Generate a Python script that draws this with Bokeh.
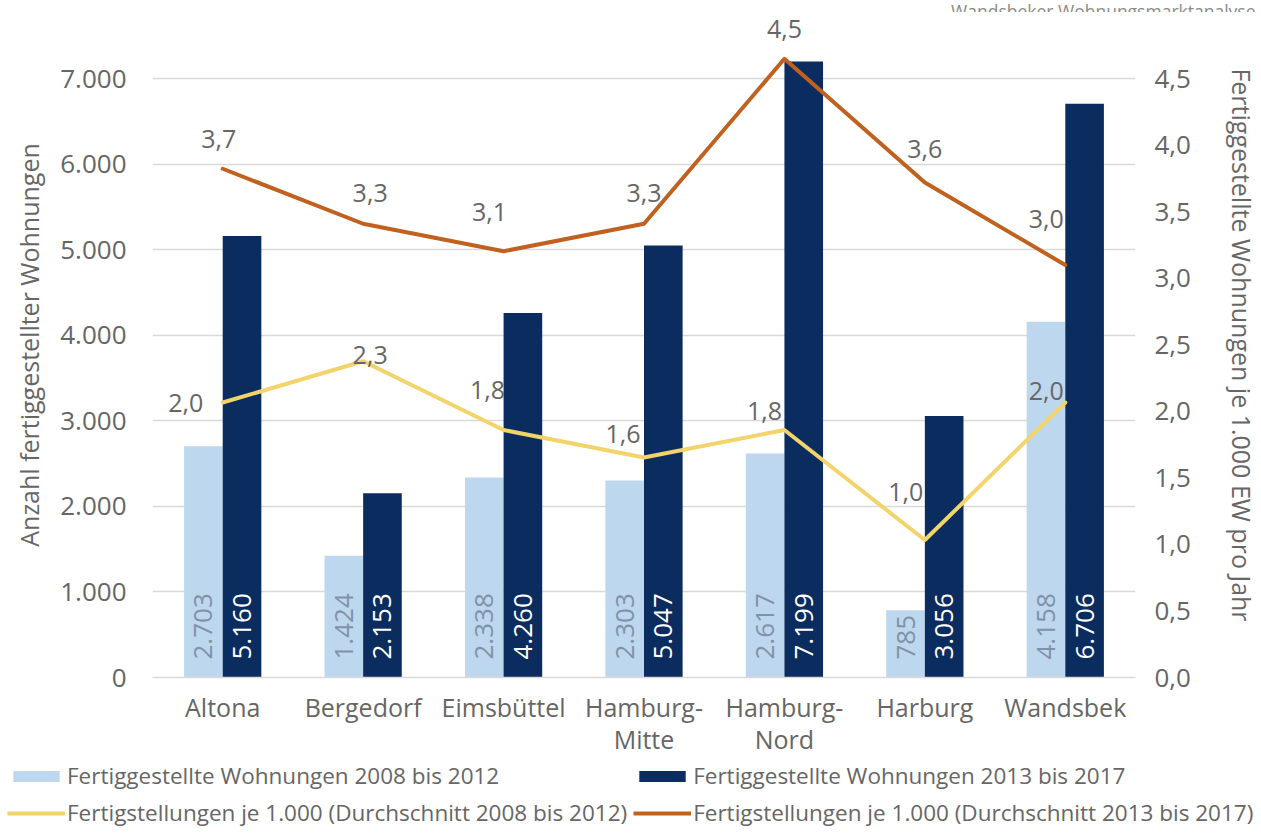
import math
from bokeh.plotting import figure
from bokeh.layouts import column
from bokeh.models import (ColumnDataSource, Range1d, LinearAxis, FixedTicker,
                          Legend, LegendItem, Label)
from bokeh.embed import file_html
from bokeh.resources import INLINE
from bokeh.core.properties import value

# ---------------- data ----------------
districts = ["Altona", "Bergedorf", "Eimsbüttel", "Hamburg-\nMitte",
             "Hamburg-\nNord", "Harburg", "Wandsbek"]
wohnungen_2008_2012 = [2703, 1424, 2338, 2303, 2617, 785, 4158]
wohnungen_2013_2017 = [5160, 2153, 4260, 5047, 7199, 3056, 6706]
je_1000_2008_2012 = [2.0, 2.3, 1.8, 1.6, 1.8, 1.0, 2.0]
je_1000_2013_2017 = [3.7, 3.3, 3.1, 3.3, 4.5, 3.6, 3.0]
left_ticks = [0, 1000, 2000, 3000, 4000, 5000, 6000, 7000]
right_ticks = [0.0, 0.5, 1.0, 1.5, 2.0, 2.5, 3.0, 3.5, 4.0, 4.5]
legend_labels = ["Fertiggestellte Wohnungen 2008 bis 2012",
                 "Fertiggestellte Wohnungen 2013 bis 2017",
                 "Fertigstellungen je 1.000 (Durchschnitt 2008 bis 2012)",
                 "Fertigstellungen je 1.000 (Durchschnitt 2013 bis 2017)"]
y_left_title = "Anzahl fertiggestellter Wohnungen"
y_right_title = "Fertiggestellte Wohnungen je 1.000 EW pro Jahr"
corner_text = "Wandsbeker Wohnungsmarktanalyse"

# ---------------- style ----------------
FONT = "Open Sans"
GREY = "#666666"
LIGHT = "#bdd7ee"
DARK = "#0b2c5f"
YELLOW = "#f2d46b"
ORANGE = "#c0611f"
GRID = "#d9d9d9"
BAR_W = 0.275
# label offsets (screen px) for the line labels
yel_dx = [-37, 7, -16, -21, -20, -19, -19]
yel_dy = [0, -6, -40, -24, -19, -48, -12]
ora_dx = [-4, 7, -14, 0, 0, 0, -19]
ora_dy = [-30, -31, -39, -31, -30, -34, -46]


def de_int(v):
    return f"{v:,}".replace(",", ".")


def de_dec(v):
    return f"{v:.1f}".replace(".", ",")


W = 1261
HEAD_H = 12
MAIN_H = 748
LEG_H = 70
FRAME_L, FRAME_R, FRAME_B = 152, 1136, 677   # page pixels
FRAME_T = HEAD_H
frame_h = FRAME_B - FRAME_T
px_per_1000 = 599 / 7
px_per_unit_axis = 599 / 4.5
px_per_unit_line = 137.5

idx = list(range(len(districts)))
src = ColumnDataSource(dict(
    x=idx,
    x_l=[i - BAR_W / 2 for i in idx],
    x_d=[i + BAR_W / 2 for i in idx],
    w1=wohnungen_2008_2012,
    w2=wohnungen_2013_2017,
    t1=[de_int(v) for v in wohnungen_2008_2012],
    t2=[de_int(v) for v in wohnungen_2013_2017],
    r1=je_1000_2008_2012,
    r2=je_1000_2013_2017,
    rt1=[de_dec(v) for v in je_1000_2008_2012],
    rt2=[de_dec(v) for v in je_1000_2013_2017],
    zero=[0] * len(idx),
    ydx=yel_dx, ydy=yel_dy, odx=ora_dx, ody=ora_dy,
))

# ---------------- header (corner text) ----------------
head = figure(width=W, height=HEAD_H, output_backend="svg", toolbar_location=None,
              x_axis_type=None, y_axis_type=None, min_border=0, frame_align=False,
              x_range=Range1d(0, 1), y_range=Range1d(0, 1))
head.outline_line_color = None
head.grid.visible = False
head.add_layout(Label(x=1255, y=2, x_units="screen", y_units="screen",
                      text=corner_text, text_align="right", text_baseline="alphabetic",
                      text_font=FONT, text_font_size="17.5px", text_color="#8a8a8a"))

# ---------------- main chart ----------------
p = figure(width=W, height=MAIN_H, output_backend="svg", toolbar_location=None,
           x_range=Range1d(-0.5, 6.5),
           y_range=Range1d(0, frame_h / px_per_1000 * 1000),
           min_border_left=FRAME_L, min_border_right=W - FRAME_R,
           min_border_top=0, min_border_bottom=HEAD_H + MAIN_H - FRAME_B,
           frame_align=False)
p.outline_line_color = None
p.extra_y_ranges = {"axis_r": Range1d(0, frame_h / px_per_unit_axis),
                    "line": Range1d(0, frame_h / px_per_unit_line)}

p.xgrid.visible = False
p.ygrid.ticker = FixedTicker(ticks=left_ticks)
p.ygrid.grid_line_color = GRID
p.ygrid.grid_line_width = 1.5

xa = p.xaxis[0]
xa.ticker = FixedTicker(ticks=idx)
xa.major_label_overrides = {i: d for i, d in zip(idx, districts)}
xa.axis_line_color = GRID
xa.axis_line_width = 1.5
xa.major_tick_line_color = None
xa.minor_tick_line_color = None
xa.major_label_standoff = 6
xa.major_label_text_font = FONT
xa.major_label_text_font_size = "25px"
xa.major_label_text_color = GREY
xa.major_label_text_line_height = 0.97

ya = p.yaxis[0]
ya.ticker = FixedTicker(ticks=left_ticks)
ya.major_label_overrides = {t: de_int(t) for t in left_ticks}
ya.axis_line_color = None
ya.major_tick_line_color = None
ya.minor_tick_line_color = None
ya.major_label_standoff = 20
ya.major_label_text_font = FONT
ya.major_label_text_font_size = "26px"
ya.major_label_text_color = GREY
ya.axis_label = y_left_title
ya.axis_label_text_font = FONT
ya.axis_label_text_font_size = "25px"
ya.axis_label_text_font_style = "normal"
ya.axis_label_text_color = GREY
ya.axis_label_standoff = 11

ra = LinearAxis(y_range_name="axis_r", ticker=FixedTicker(ticks=right_ticks))
ra.major_label_overrides = {t: de_dec(t) for t in right_ticks}
ra.axis_line_color = None
ra.major_tick_line_color = None
ra.minor_tick_line_color = None
ra.major_label_standoff = 13
ra.major_label_text_font = FONT
ra.major_label_text_font_size = "26px"
ra.major_label_text_color = GREY
ra.axis_label = y_right_title
ra.axis_label_text_font = FONT
ra.axis_label_text_font_size = "25px"
ra.axis_label_text_font_style = "normal"
ra.axis_label_text_color = GREY
ra.axis_label_standoff = 31
p.add_layout(ra, "right")

p.vbar(x="x_l", top="w1", width=BAR_W, source=src, fill_color=LIGHT, line_color=None)
p.vbar(x="x_d", top="w2", width=BAR_W, source=src, fill_color=DARK, line_color=None)

p.text(x="x_l", y="zero", text="t1", source=src, angle=math.pi / 2,
       text_align="left", text_baseline="middle", y_offset=-18,
       text_font=value(FONT), text_font_size="26px", text_color="#8192a8")
p.text(x="x_d", y="zero", text="t2", source=src, angle=math.pi / 2,
       text_align="left", text_baseline="middle", y_offset=-18,
       text_font=value(FONT), text_font_size="26px", text_color="white")

p.line(x="x", y="r1", source=src, y_range_name="line", line_color=YELLOW,
       line_width=4, line_join="round", line_cap="round")
p.line(x="x", y="r2", source=src, y_range_name="line", line_color=ORANGE,
       line_width=4, line_join="round", line_cap="round")

p.text(x="x", y="r1", text="rt1", source=src, y_range_name="line",
       x_offset="ydx", y_offset="ydy", text_align="center", text_baseline="middle",
       text_font=value(FONT), text_font_size="25px", text_color=GREY)
p.text(x="x", y="r2", text="rt2", source=src, y_range_name="line",
       x_offset="odx", y_offset="ody", text_align="center", text_baseline="middle",
       text_font=value(FONT), text_font_size="25px", text_color=GREY)

# ---------------- legend strip ----------------
leg = figure(width=W, height=LEG_H, output_backend="svg", toolbar_location=None,
             x_axis_type=None, y_axis_type=None, min_border=0, frame_align=False,
             x_range=Range1d(0, 1), y_range=Range1d(0, 1))
leg.outline_line_color = None
leg.grid.visible = False
# legend-only renderers: points placed outside the visible range
hidden = ColumnDataSource(dict(x=[-5, -4], y=[-5, -4]))
g1 = leg.vbar(x="x", top="y", width=0.1, source=hidden, fill_color=LIGHT, line_color=None)
g2 = leg.vbar(x="x", top="y", width=0.1, source=hidden, fill_color=DARK, line_color=None)
g3 = leg.line(x="x", y="y", source=hidden, line_color=YELLOW, line_width=4)
g4 = leg.line(x="x", y="y", source=hidden, line_color=ORANGE, line_width=4)
legend = Legend(items=[LegendItem(label=legend_labels[0], renderers=[g1]),
                       LegendItem(label=legend_labels[1], renderers=[g2]),
                       LegendItem(label=legend_labels[2], renderers=[g3]),
                       LegendItem(label=legend_labels[3], renderers=[g4])],
                location=(7, 2), orientation="horizontal", ncols=2,
                padding=0, margin=0, border_line_color=None,
                background_fill_alpha=0, label_text_font=FONT,
                label_text_font_size="22.5px", label_text_color=GREY,
                glyph_width=58, glyph_height=14, label_height=24,
                label_standoff=2, spacing=6)
leg.add_layout(legend)

page = column(head, p, leg, spacing=0)
open("out.html", "w").write(file_html(page, INLINE))
